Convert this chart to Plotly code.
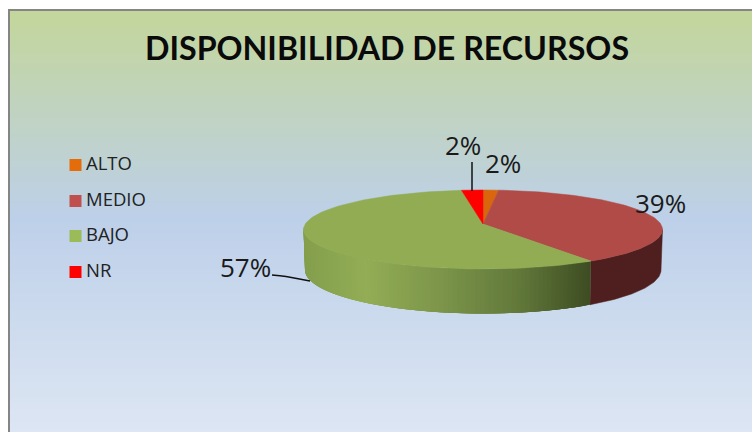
import math
import plotly.graph_objects as go

TITLE = "DISPONIBILIDAD DE RECURSOS"
categories = ["ALTO", "MEDIO", "BAJO", "NR"]
values = [1.6, 39.4, 56.8, 2.2]
top_colors = ["#D9660C", "#B14B47", "#91AC53", "#FF0000"]
legend_colors = ["#E46C0A", "#C0504D", "#9BBB59", "#FF0000"]
label_pos = [(503, 163), (660, 203), (245, 267), (463, 145)]
legend_rows = [165, 201, 236, 272]

W, H = 752, 432
CX, CY, RX, RY = 483, 229.5, 179.5, 39.5
RX2, RY2, CY2 = 178, 43.5, 270
C = 5.5 / 39.5  # perspective shift of the apex


def hx(c):
    return [int(c[i:i + 2], 16) for i in (1, 3, 5)]


def mix(stops, p):
    for (p0, c0), (p1, c1) in zip(stops, stops[1:]):
        if p <= p1:
            f = max(0, (p - p0) / (p1 - p0)) if p1 > p0 else 0
            a, b = hx(c0), hx(c1)
            return "rgb(%d,%d,%d)" % tuple(round(a[i] + (b[i] - a[i]) * f) for i in range(3))
    return stops[-1][1]


def project(theta):
    u, v = math.sin(theta), math.cos(theta)
    den = 1 + C * v
    return u * math.sqrt(1 - C * C) / den, (v + C) / den


def top_pt(theta):
    X, Y = project(theta)
    return CX + RX * X, CY - RY * Y


def bot_pt(theta):
    X, Y = project(theta)
    return CX + RX2 * X, CY2 - RY2 * Y


bounds = [0]
for v in values:
    bounds.append(bounds[-1] + v / sum(values) * 2 * math.pi)

shapes = []
bg_stops = [(0, "#C3D69B"), (0.49, "#BDD0E9"), (1, "#DDE6F3")]
TOP, LEFT = 11, 10
for y in range(TOP, H, 2):
    shapes.append(dict(type="rect", xref="x", yref="y", x0=LEFT, x1=W, y0=y, y1=y + 2,
                       fillcolor=mix(bg_stops, (y - TOP) / (H - TOP)), line_width=0, layer="below"))
shapes.append(dict(type="rect", xref="x", yref="y", x0=8, x1=W, y0=9, y1=11,
                   fillcolor="#858585", line_width=0, layer="below"))
shapes.append(dict(type="rect", xref="x", yref="y", x0=8, x1=10, y0=9, y1=H,
                   fillcolor="#858585", line_width=0, layer="below"))

fig = go.Figure()

# side wall, front half only
green_stops = [(303, "#849E4C"), (330, "#8AA550"), (365, "#92AD55"), (440, "#7C954A"),
               (520, "#61783A"), (590, "#3E4D22")]
N = 160
for i, cat in enumerate(categories):
    a, b = bounds[i], bounds[i + 1]
    steps = [a + (b - a) * k / N for k in range(N + 1)]
    front = [k for k in range(N) if project(steps[k])[1] <= 0 or project(steps[k + 1])[1] <= 0]
    if not front:
        continue
    if cat == "MEDIO":
        th = [steps[k] for k in front] + [steps[front[-1] + 1]]
        p = [top_pt(t) for t in th] + [bot_pt(t) for t in reversed(th)]
        p.append(p[0])
        fig.add_trace(go.Scatter(x=[q[0] for q in p], y=[q[1] for q in p], mode="lines", fill="toself",
                                 fillcolor="#4F1F1F", line=dict(color="#4F1F1F", width=0.5),
                                 hoverinfo="skip", showlegend=False))
    else:
        for k in front:
            t0 = steps[k]
            t1 = steps[min(k + 4, N)]
            p = [top_pt(t0), top_pt(t1), bot_pt(t1), bot_pt(t0), top_pt(t0)]
            c = mix(green_stops, (top_pt(t0)[0] + top_pt(steps[k + 1])[0]) / 2)
            fig.add_trace(go.Scatter(x=[q[0] for q in p], y=[q[1] for q in p], mode="lines",
                                     fill="toself", fillcolor=c, line=dict(width=0),
                                     hoverinfo="skip", showlegend=False))

# top face
ax, ay = CX, CY - RY * C
for i, cat in enumerate(categories):
    a, b = bounds[i], bounds[i + 1]
    arc = [top_pt(a + (b - a) * k / 100) for k in range(101)]
    xs = [ax] + [q[0] for q in arc] + [ax]
    ys = [ay] + [q[1] for q in arc] + [ay]
    fig.add_trace(go.Scatter(x=xs, y=ys, mode="lines", fill="toself", fillcolor=top_colors[i],
                             line=dict(color=top_colors[i], width=0.5), name=cat,
                             hoverinfo="name", showlegend=False))

# leader lines
fig.add_trace(go.Scatter(x=[472, 472], y=[162, 191], mode="lines",
                         line=dict(color="#111111", width=1.5), hoverinfo="skip", showlegend=False))
fig.add_trace(go.Scatter(x=[272, 286, 310], y=[275, 276.5, 281], mode="lines",
                         line=dict(color="#111111", width=1.5, shape="spline"),
                         hoverinfo="skip", showlegend=False))

# legend
fig.add_trace(go.Scatter(x=[75.5] * 4, y=legend_rows, mode="markers",
                         marker=dict(symbol="square", size=12, color=legend_colors),
                         text=categories, hoverinfo="text", showlegend=False, cliponaxis=False))
fig.add_trace(go.Scatter(x=[86] * 4, y=legend_rows, mode="text", text=categories,
                         textposition="middle right",
                         textfont=dict(family="Open Sans", size=18.5, color="#222222"),
                         hoverinfo="skip", showlegend=False, cliponaxis=False))

annotations = []
for v, (x, y) in zip(values, label_pos):
    annotations.append(dict(x=x, y=y, xref="x", yref="y", text="%d%%" % round(v), showarrow=False,
                            font=dict(family="Open Sans", size=26, color="#1A1A1A")))

fig.update_layout(
    width=W, height=H, autosize=False,
    margin=dict(l=0, r=0, t=0, b=0),
    paper_bgcolor="white", plot_bgcolor="rgba(0,0,0,0)",
    title=dict(text="<b>" + TITLE + "</b>", x=387 / W, y=1 - 49 / H, xanchor="center", yanchor="middle",
               font=dict(family="Lato", size=32.2, color="#0A0A0A")),
    xaxis=dict(range=[0, W], visible=False, domain=[0, 1], fixedrange=True),
    yaxis=dict(range=[H, 0], visible=False, domain=[0, 1], fixedrange=True),
    shapes=shapes, annotations=annotations, showlegend=False,
)
fig.write_html("out.html", post_script="document.body.style.margin='0';document.documentElement.style.overflow='hidden';",
               config={"displayModeBar": False})
